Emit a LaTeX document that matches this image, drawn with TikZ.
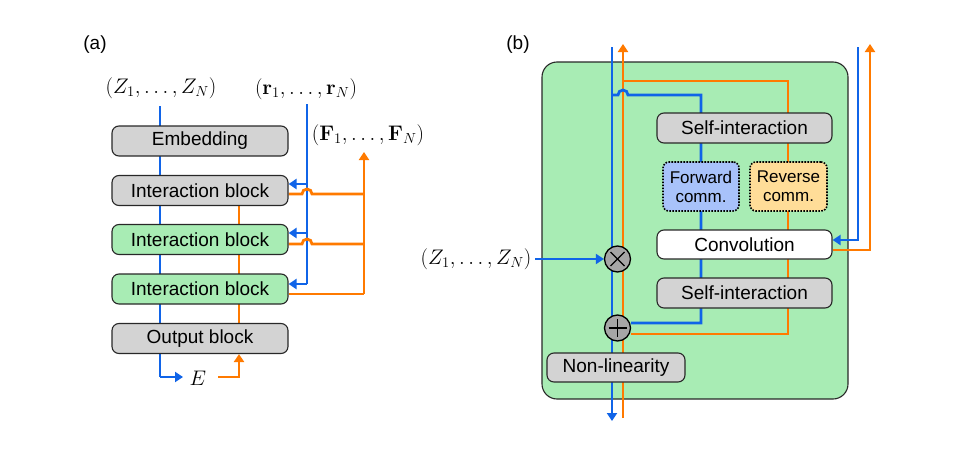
\documentclass[tikz,border=0pt]{standalone}
\usepackage[no-math]{fontspec}
\usepackage{graphicx}
\setmainfont{Liberation Sans}
\usetikzlibrary{arrows.meta}
\definecolor{myblue}{RGB}{16,100,232}
\definecolor{myorange}{RGB}{255,122,0}
\definecolor{boxgray}{RGB}{211,211,211}
\definecolor{boxgreen}{RGB}{168,236,180}
\definecolor{fwdblue}{RGB}{168,194,250}
\definecolor{revorange}{RGB}{255,221,152}
\definecolor{circgray}{RGB}{166,166,166}
\definecolor{edge}{RGB}{40,40,40}
\pgfdeclarelayer{bg}
\pgfdeclarelayer{wires}
\pgfsetlayers{bg,wires,main}
\newcommand{\scaledmath}[1]{\scalebox{1.22}{$#1$}}
\begin{document}
\begin{tikzpicture}[x=1pt,y=-1pt,
  box/.style={draw=edge, line width=1.1pt, rounded corners=7pt, minimum width=176pt, minimum height=30pt, inner sep=0pt, font=\fontsize{19}{22}\selectfont},
  graybox/.style={box, fill=boxgray},
  greenbox/.style={box, fill=boxgreen},
  commbox/.style={draw=black, line width=1.6pt, dash pattern=on 1.6pt off 1.4pt, rounded corners=6pt, minimum width=76pt, minimum height=49pt, inner sep=0pt, align=center, font=\fontsize{17}{19}\selectfont},
  bw/.style={draw=myblue, line width=2.8pt},
  ow/.style={draw=myorange, line width=2.8pt},
  arr/.style={-{Triangle[length=8pt,width=10pt]}},
  lbl/.style={inner sep=0pt, font=\fontsize{19}{22}\selectfont},
  mlbl/.style={inner sep=0pt, font=\fontsize{17.28}{20}\selectfont},
  opc/.style={circle, draw=black, fill=circgray, line width=1.3pt, minimum size=26pt, inner sep=0pt}
]
\useasboundingbox (0,0) rectangle (969,463);

% ---------------- panel (a) ----------------
\node[lbl] (la) at (95,45) {(a)};
\node[mlbl] (za) at (161,88) {\scaledmath{(Z_1,\ldots,Z_N)}};
\node[mlbl] (ra) at (306,89) {\scaledmath{(\mathbf{r}_1,\ldots,\mathbf{r}_N)}};
\node[mlbl] (fa) at (368,135) {\scaledmath{(\mathbf{F}_1,\ldots,\mathbf{F}_N)}};
\node[mlbl] (ea) at (198,378) {\scaledmath{E}};

\node[graybox] (emb) at (200,141) {Embedding};
\node[graybox] (ib1) at (200,190.5) {Interaction block};
\node[greenbox] (ib2) at (200,239.5) {Interaction block};
\node[greenbox] (ib3) at (200,289) {Interaction block};
\node[graybox] (outb) at (200,338.5) {Output block};

\coordinate (zt) at (160,106);
\coordinate (eb) at (160,377);
\coordinate (ebe) at (183,377);
\coordinate (eo) at (218,377);
\coordinate (rt) at (307,104);
\coordinate (fb) at (364,294);
\coordinate (ftip) at (364,152);

\begin{pgfonlayer}{wires}
  \draw[bw] (zt) -- (eb);
  \draw[bw, arr] (eb) -- (ebe);
  \draw[ow] (239,205) -- (239,324);
  \draw[ow, arr] (eo) -- (239,377) -- (outb.south -| 239,0);
  \draw[bw] (rt) -- (307,284);
  \draw[bw, arr] (307,184) -- (ib1.east |- 0,184);
  \draw[bw, arr] (307,233) -- (ib2.east |- 0,233);
  \draw[bw, arr] (307,284) -- (ib3.east |- 0,284);
  \draw[ow, arr] (fb) -- (ftip);
  \draw[ow] (ib1.east |- 0,194) -- (302,194) arc[start angle=180,end angle=0,radius=5pt] -- (364,194);
  \draw[ow] (ib2.east |- 0,244) -- (302,244) arc[start angle=180,end angle=0,radius=5pt] -- (364,244);
  \draw[ow] (ib3.east |- 0,294) -- (fb);
\end{pgfonlayer}

% ---------------- panel (b) ----------------
\node[lbl] (lb) at (518,45) {(b)};
\begin{pgfonlayer}{bg}
  \node[draw=edge, fill=boxgreen, line width=1.1pt, rounded corners=15pt, minimum width=306pt, minimum height=337pt, inner sep=0pt] (big) at (695,230.5) {};
\end{pgfonlayer}

\node[graybox, minimum width=175pt] (si1) at (744.5,128) {Self-interaction};
\node[commbox, fill=fwdblue] (fwd) at (701,186.5) {Forward\\comm.};
\node[commbox, fill=revorange, minimum width=77pt] (rev) at (788.5,186.5) {Reverse\\comm.};
\node[box, fill=white, minimum width=175pt, minimum height=29pt] (conv) at (744.5,244.5) {Convolution};
\node[graybox, minimum width=175pt] (si2) at (744.5,293) {Self-interaction};
\node[graybox, minimum width=138pt, minimum height=29pt] (nl) at (616,367.5) {Non-linearity};
\node[opc] (tm) at (617.5,259) {};
\node[opc] (pl) at (617.5,328) {};
\draw[line width=1.3pt] (tm.center) ++(-7,-7) -- ++(14,14);
\draw[line width=1.3pt] (tm.center) ++(-7,7) -- ++(14,-14);
\draw[line width=1.3pt] (pl.center) ++(-9,0) -- ++(18,0);
\draw[line width=1.3pt] (pl.center) ++(0,-9) -- ++(0,18);
\node[mlbl] (zb) at (476,259) {\scaledmath{(Z_1,\ldots,Z_N)}};

\coordinate (bt) at (612,47);
\coordinate (bb) at (612,421);
\coordinate (ob) at (623,418);
\coordinate (ot) at (623,44);
\coordinate (rbt) at (858,47);
\coordinate (rot) at (870,44);

\begin{pgfonlayer}{wires}
  \draw[bw, arr] (bt) -- (bb);
  \draw[ow, arr] (ob) -- (ot);
  \draw[ow] (623,81) -- (788,81) -- (788,334) -- (pl.east |- 0,334);
  \draw[bw] (612,95) -- (618,95) arc[start angle=180,end angle=0,radius=5pt] -- (701,95) -- (701,323) -- (pl.east |- 0,323);
  \draw[bw, arr] (535,259) -- (tm.west);
  \draw[bw, arr] (rbt) -- (858,240) -- (conv.east |- 0,240);
  \draw[ow, arr] (conv.east |- 0,250) -- (870,250) -- (rot);
\end{pgfonlayer}
\end{tikzpicture}
\end{document}
